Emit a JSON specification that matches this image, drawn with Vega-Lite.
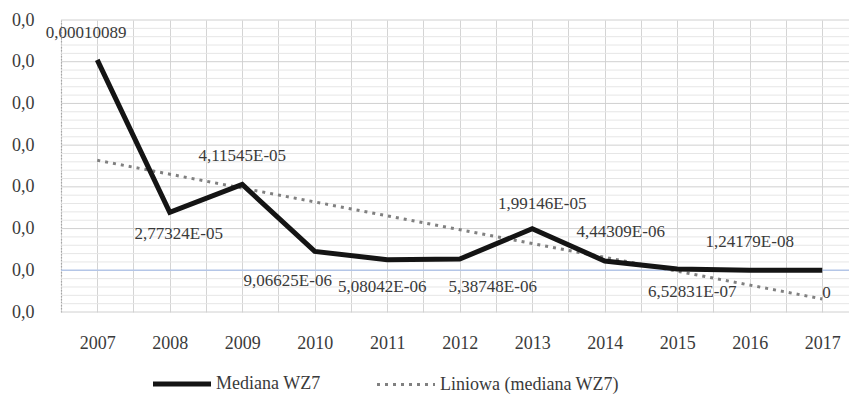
{
  "$schema": "https://vega.github.io/schema/vega-lite/v6.json",
  "width": 788,
  "height": 292,
  "autosize": {"type": "none"},
  "padding": {"left": 61, "top": 20, "right": 0, "bottom": 94},
  "config": {
    "view": {"stroke": null},
    "text": {"font": "serif", "fontSize": 17, "color": "#3a3a3a", "baseline": "middle"}
  },
  "datasets": {
    "mediana": [
      {"year": 2007, "value": 0.00010089, "label": "0,00010089"},
      {"year": 2008, "value": 0.0000277324, "label": "2,77324E-05"},
      {"year": 2009, "value": 0.0000411545, "label": "4,11545E-05"},
      {"year": 2010, "value": 0.00000906625, "label": "9,06625E-06"},
      {"year": 2011, "value": 0.00000508042, "label": "5,08042E-06"},
      {"year": 2012, "value": 0.00000538748, "label": "5,38748E-06"},
      {"year": 2013, "value": 0.0000199146, "label": "1,99146E-05"},
      {"year": 2014, "value": 0.00000444309, "label": "4,44309E-06"},
      {"year": 2015, "value": 0.000000652831, "label": "6,52831E-07"},
      {"year": 2016, "value": 0.0000000124179, "label": "1,24179E-08"},
      {"year": 2017, "value": 0, "label": "0"}
    ],
    "hgrid": [
      {"v": -2e-5}, {"v": -1.6e-5}, {"v": -1.2e-5}, {"v": -8e-6}, {"v": -4e-6},
      {"v": 4e-6}, {"v": 8e-6}, {"v": 1.2e-5}, {"v": 1.6e-5}, {"v": 2e-5},
      {"v": 2.4e-5}, {"v": 2.8e-5}, {"v": 3.2e-5}, {"v": 3.6e-5}, {"v": 4e-5},
      {"v": 4.4e-5}, {"v": 4.8e-5}, {"v": 5.2e-5}, {"v": 5.6e-5}, {"v": 6e-5},
      {"v": 6.4e-5}, {"v": 6.8e-5}, {"v": 7.2e-5}, {"v": 7.6e-5}, {"v": 8e-5},
      {"v": 8.4e-5}, {"v": 8.8e-5}, {"v": 9.2e-5}, {"v": 9.6e-5}, {"v": 1e-4},
      {"v": 1.04e-4}, {"v": 1.08e-4}, {"v": 1.12e-4}, {"v": 1.16e-4}, {"v": 1.2e-4},
      {"v": 0}
    ]
  },
  "data": {"name": "mediana"},
  "encoding": {
    "y": {
      "field": "value", "type": "quantitative",
      "scale": {"domain": [-0.00002, 0.00012], "nice": false, "zero": false},
      "axis": {
        "title": null, "tickCount": 100, "ticks": false,
        "domain": true, "domainColor": "#a6a6a6", "domainDash": [1.5, 1.5], "domainWidth": 1.2,
        "grid": false,
        "values": [-2e-5, 0, 2e-5, 4e-5, 6e-5, 8e-5, 1e-4, 1.2e-4],
        "labelExpr": "'0,0'",
        "labelFont": "serif", "labelFontSize": 18, "labelColor": "#3a3a3a",
        "labelPadding": 27, "labelOverlap": false
      }
    }
  },
  "layer": [
    {
      "data": {"name": "hgrid"},
      "mark": {"type": "rule"},
      "encoding": {
        "y": {"field": "v", "type": "quantitative", "scale": {"domain": [-0.00002, 0.00012], "nice": false, "zero": false}},
        "color": {"condition": [
          {"test": "abs(datum.v) < 1e-9", "value": "#b4c6e7"},
          {"test": "abs(datum.v * 50000 - round(datum.v * 50000)) < 0.01", "value": "#d0d0d0"}
        ], "value": "#e6e6e6"},
        "strokeWidth": {"condition": {"test": "abs(datum.v) < 1e-9", "value": 1.5}, "value": 1}
      }
    },
    {
      "transform": [{"regression": "value", "on": "year", "method": "linear", "extent": [2007, 2017]}],
      "mark": {"type": "line", "strokeWidth": 3, "strokeDash": [3, 5]},
      "encoding": {
        "x": {
          "field": "year", "type": "quantitative",
          "scale": {"domain": [2006.5, 2017.369], "nice": false, "zero": false},
          "axis": {
            "title": null, "tickCount": 100,
            "values": [2006.5, 2007, 2007.5, 2008, 2008.5, 2009, 2009.5, 2010, 2010.5, 2011, 2011.5, 2012, 2012.5, 2013, 2013.5, 2014, 2014.5, 2015, 2015.5, 2016, 2016.5, 2017],
            "labelExpr": "datum.value % 1 == 0 ? '' + datum.value : ''",
            "grid": true, "gridColor": "#d4d4d4", "gridWidth": 1,
            "ticks": false, "domain": false,
            "labelFont": "serif", "labelFontSize": 18, "labelColor": "#3a3a3a",
            "labelPadding": 22, "labelFlush": false, "labelOverlap": false
          }
        },
        "color": {"datum": "Liniowa (mediana WZ7)"}
      }
    },
    {
      "mark": {"type": "line", "strokeWidth": 5},
      "encoding": {
        "x": {"field": "year", "type": "quantitative", "scale": {"domain": [2006.5, 2017.369], "nice": false, "zero": false}},
        "color": {
          "datum": "Mediana WZ7",
          "scale": {"domain": ["Mediana WZ7", "Liniowa (mediana WZ7)"], "range": ["#141414", "#808080"]},
          "legend": {
            "title": null, "orient": "none", "direction": "horizontal",
            "legendX": 112, "legendY": 355,
            "symbolType": "stroke", "symbolSize": 3364, "symbolStrokeWidth": 4,
            "labelFont": "serif", "labelFontSize": 18, "labelColor": "#3a3a3a",
            "labelOffset": 25, "columnPadding": 50, "labelLimit": 400,
            "encode": {
              "symbols": {
                "update": {
                  "strokeWidth": {"signal": "datum.index == 0 ? 5 : 3"},
                  "strokeDash": {"signal": "datum.index == 0 ? [] : [3, 5]"}
                }
              }
            }
          }
        }
      }
    },
    {
      "encoding": {
        "x": {"field": "year", "type": "quantitative", "scale": {"domain": [2006.5, 2017.369], "nice": false, "zero": false}},
        "text": {"field": "label"}
      },
      "layer": [
        {"transform": [{"filter": "datum.year == 2007"}], "mark": {"type": "text", "dx": -11, "dy": -27}},
        {"transform": [{"filter": "datum.year == 2008"}], "mark": {"type": "text", "dx": 9, "dy": 22}},
        {"transform": [{"filter": "datum.year == 2009"}], "mark": {"type": "text", "dx": 0, "dy": -28}},
        {"transform": [{"filter": "datum.year == 2010"}], "mark": {"type": "text", "dx": -27, "dy": 30}},
        {"transform": [{"filter": "datum.year == 2011"}], "mark": {"type": "text", "dx": -5, "dy": 27}},
        {"transform": [{"filter": "datum.year == 2012"}], "mark": {"type": "text", "dx": 33, "dy": 28}},
        {"transform": [{"filter": "datum.year == 2013"}], "mark": {"type": "text", "dx": 10, "dy": -25}},
        {"transform": [{"filter": "datum.year == 2014"}], "mark": {"type": "text", "dx": 16, "dy": -29}},
        {"transform": [{"filter": "datum.year == 2015"}], "mark": {"type": "text", "dx": 15, "dy": 23}},
        {"transform": [{"filter": "datum.year == 2016"}], "mark": {"type": "text", "dx": 0, "dy": -28}},
        {"transform": [{"filter": "datum.year == 2017"}], "mark": {"type": "text", "align": "left", "dx": 0, "dy": 23}}
      ]
    }
  ]
}
